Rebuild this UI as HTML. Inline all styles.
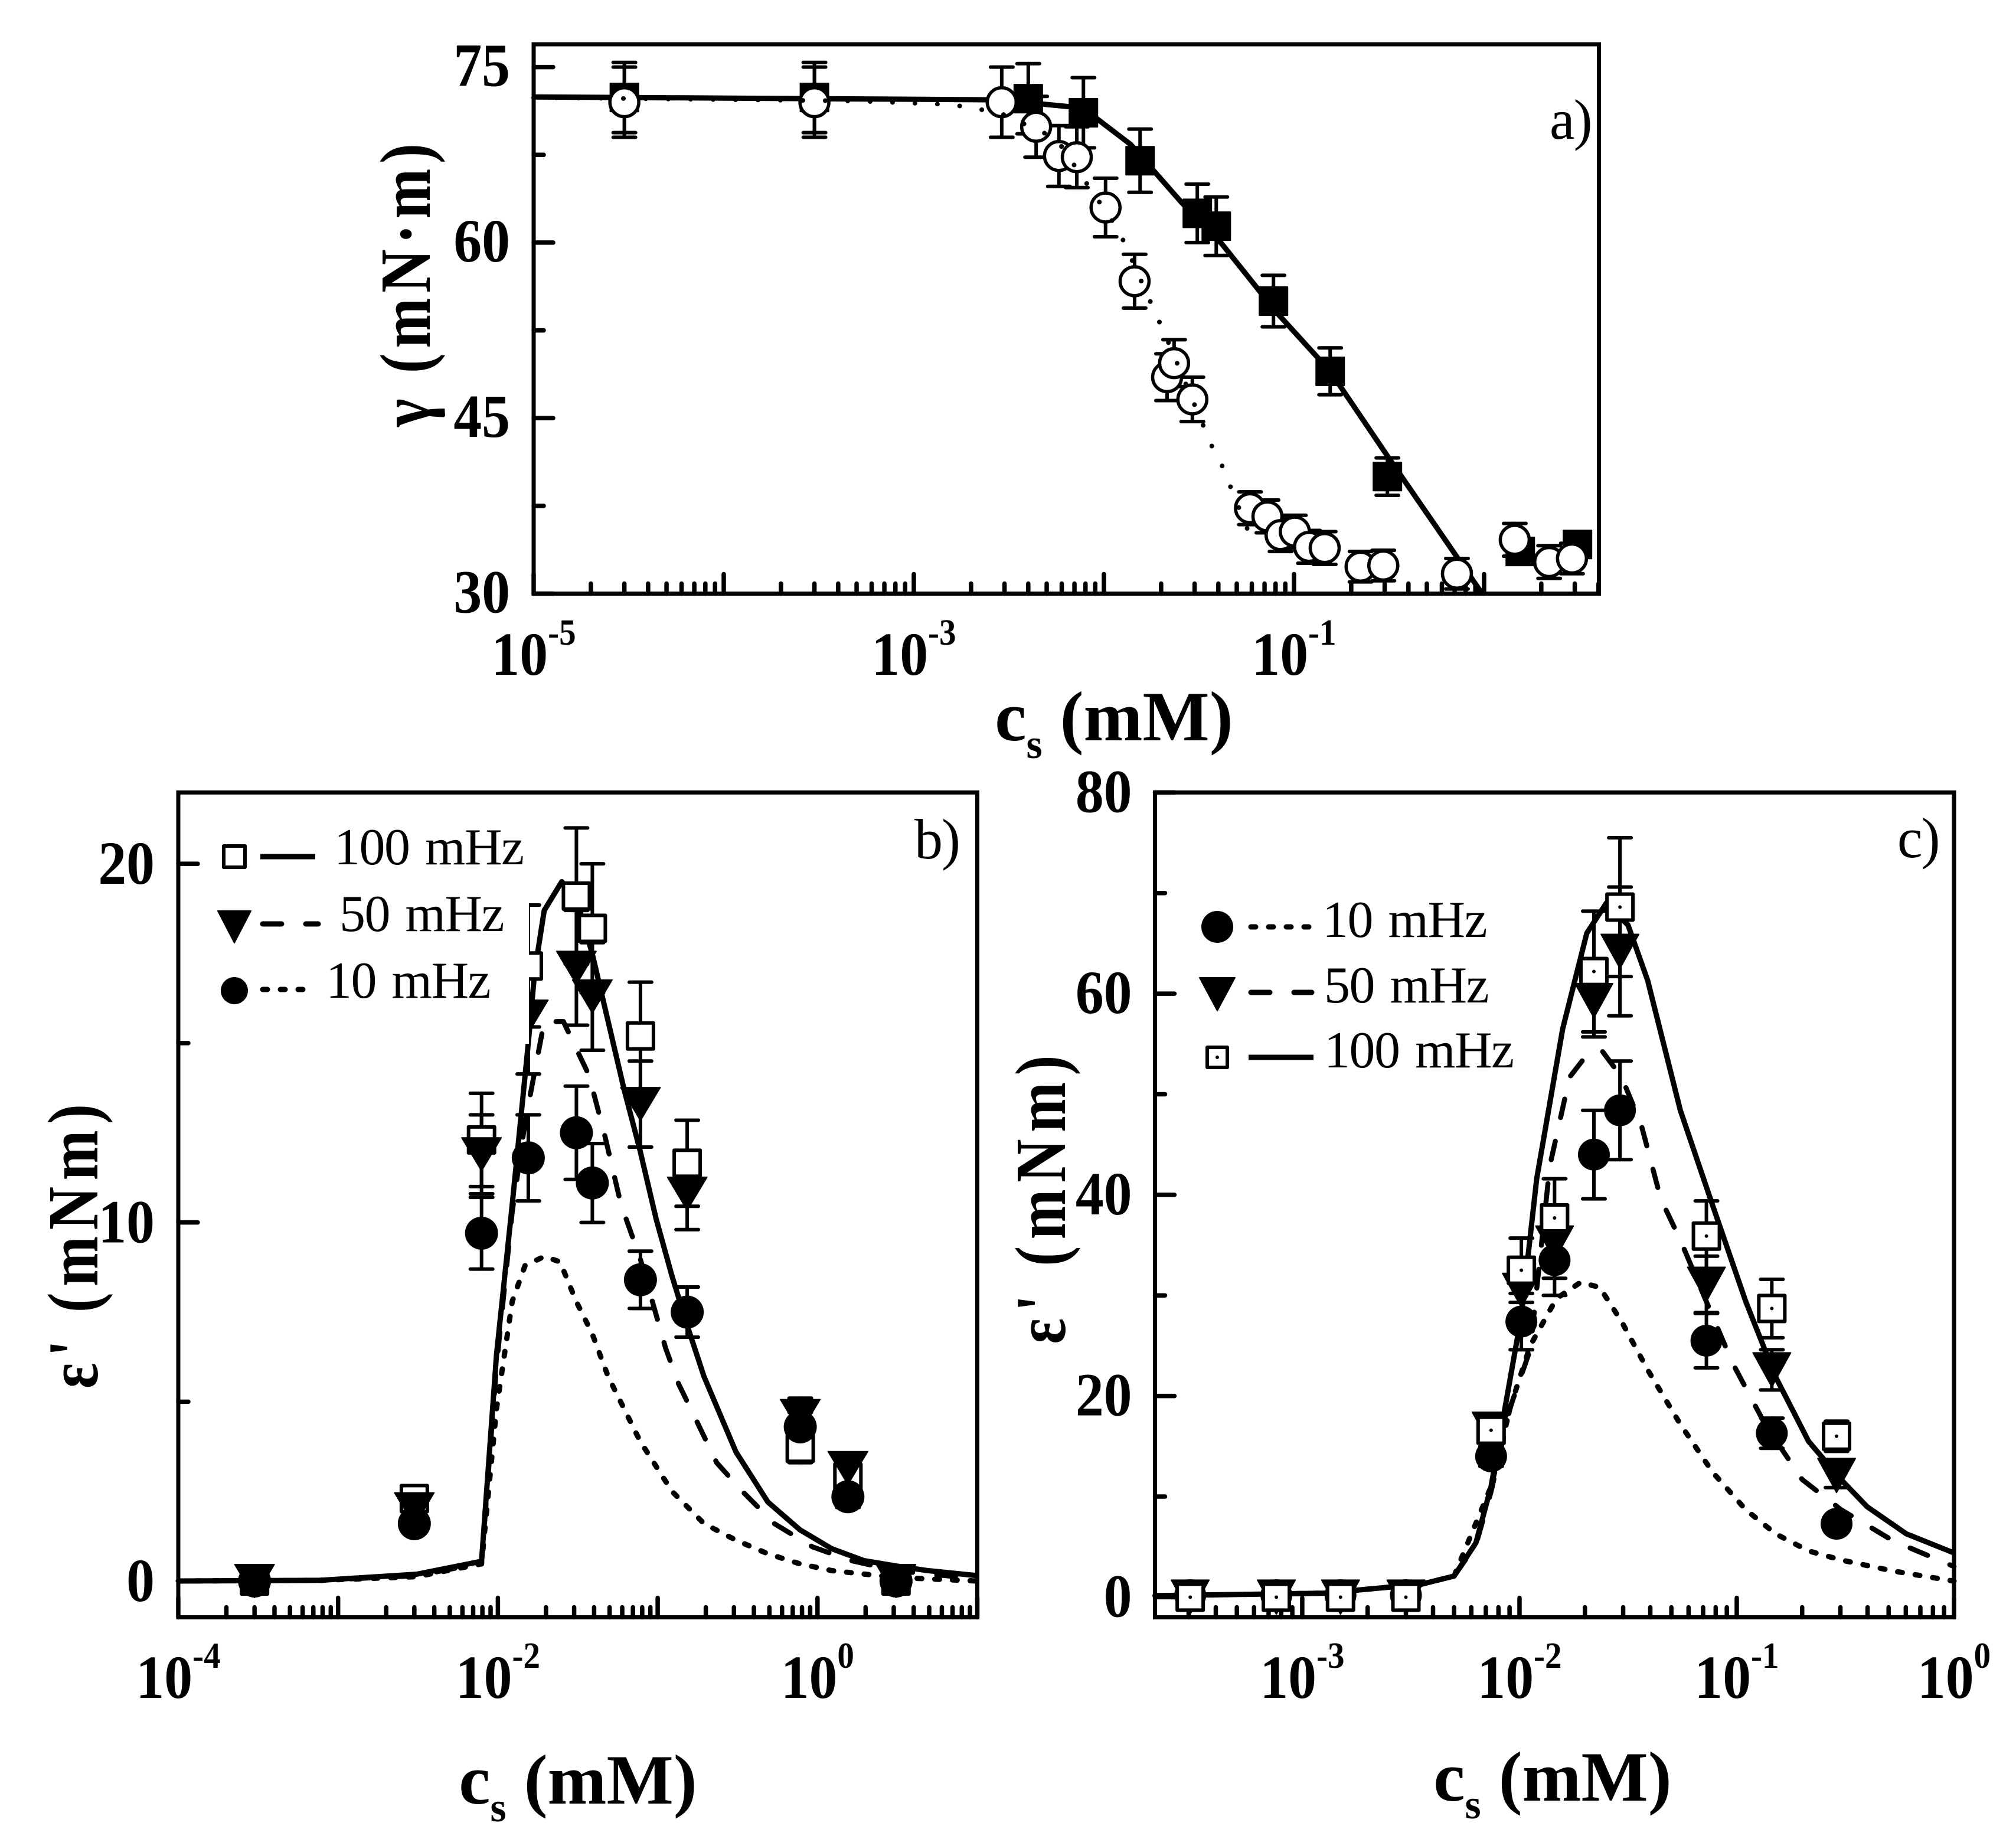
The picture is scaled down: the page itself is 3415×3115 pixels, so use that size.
<!DOCTYPE html>
<html>
<head>
<meta charset="utf-8">
<title>Surface tension and viscoelastic modulus charts</title>
<style>
html,body{margin:0;padding:0;background:#fff;}
svg{display:block;}
text{font-family:"Liberation Serif",serif;fill:#000;}
</style>
</head>
<body>
<svg id="chart" xmlns="http://www.w3.org/2000/svg" width="3415" height="3115" viewBox="0 0 3415 3115"></svg>
<script>
/* Panel a data */
const aSquareX=[3e-5,3e-4,4e-3,7.8e-3,0.0155,0.031,0.039,0.078,0.155,0.31,1.55,3.1];
const aSquareY=[72.4,72.4,72.3,71.1,67,62.5,61.4,55,49,40,33.6,34.2];
const aSquareErr=[3,3,3,3,2.7,2.5,2.5,2.2,2,1.6,0.7,0.7];
const aCircleX=[3e-5,3e-4,2.9e-3,4.4e-3,5.8e-3,7.2e-3,0.0102,0.0145,0.0215,0.0234,0.0292,0.0587,0.0725,0.085,0.101,0.12,0.145,0.224,0.295,0.72,1.45,2.2,2.9];
const aCircleY=[72,72,72,69.9,67.4,67.3,63,56.7,48.5,49.7,46.6,37.3,36.6,35,35.3,34,33.9,32.3,32.4,31.7,34.6,32.7,33];
const aCircleErr=[3,3,3,2.6,2.6,2.6,2.5,2.3,2,2,1.9,1.4,1.4,1.4,1.4,1.4,1.4,1.3,1.3,1.3,1.4,1.4,1.3];
const aSolidX=[1e-5,2.82e-3,7.76e-3,0.0138,0.0257,0.0417,0.0813,0.155,0.309,0.977];
const aSolidY=[72.45,72.2,71.5,68.4,63.4,59.9,54,49,41.8,30];
const aDotX=[1e-5,5.1e-4,1.58e-3,2.82e-3,5.6e-3,0.012,0.0214,0.0372,0.0417,0.0589];
const aDotY=[72.4,72.1,71.8,71.1,68.9,61,51.8,42.5,41,34.9];
const aYTicks=[30,45,60,75];
const aYMinor=[37.5,52.5,67.5];
const aXTickExp=[-5,-3,-1];

/* Panel b data */
const bX=[3e-4,3e-3,7.9e-3,0.0155,0.031,0.039,0.078,0.153,0.78,1.55,3.1];
const bSquare=[0,2.3,12.3,17.15,19.1,18.2,15.2,11.65,3.7,2.9,0];
const bSquareErr=[0.2,0.2,1.3,1.7,1.9,1.8,1.5,1.2,0.4,0.3,0.2];
const bTri=[0,2,11.9,15.74,17.1,16.3,13.3,10.8,4.6,3.15,0];
const bTriErr=[0.2,0.2,1.1,1.6,1.6,1.5,1.2,1,0.5,0.4,0.2];
const bCircle=[0,1.6,9.7,11.8,12.5,11.1,8.4,7.5,4.3,2.35,0];
const bCircleErr=[0.2,0.2,1,1.2,1.3,1.1,0.8,0.7,0.4,0.3,0.2];
const bSolidX=[1e-4,7.8e-4,3.1e-3,7.9e-3,9.8e-3,0.0123,0.0155,0.017,0.0195,0.0251,0.0309,0.0389,0.049,0.0617,0.0776,0.0977,0.123,0.155,0.195,0.309,0.49,0.776,1.23,1.95,3.09,4.9,10];
const bSolidY=[0,0.02,0.19,0.55,6.3,10.5,15,17,18.7,19.5,19.05,17.5,15.6,13.7,12,10.1,8.5,7.05,5.7,3.6,2.2,1.43,0.9,0.57,0.42,0.29,0.15];
const bDashX=[1e-4,7.8e-4,3.1e-3,7.9e-3,9.8e-3,0.0123,0.0148,0.0195,0.0257,0.0372,0.0468,0.0589,0.0776,0.112,0.135,0.178,0.234,0.339,0.537,0.933,1.62,3.09,10];
const bDashY=[0,0.02,0.15,0.5,6,10.3,12.8,15.6,15.6,14.1,12.4,10.5,9,6.5,5.5,4.4,3.3,2.5,1.6,0.95,0.57,0.29,0.06];
const bDotX=[1e-4,7.8e-4,3.1e-3,7.9e-3,9.8e-3,0.0123,0.0148,0.0195,0.0245,0.0309,0.0389,0.049,0.0617,0.0776,0.123,0.195,0.309,0.49,0.776,1.23,3.09,10];
const bDotY=[0,0.02,0.12,0.48,4.8,7.8,8.8,9.05,8.9,7.8,6.9,5.7,4.8,3.9,2.5,1.6,1.14,0.76,0.48,0.29,0.1,0];
const bYTicks=[0,10,20];
const bYMinor=[5,15];
const bXTickExp=[-4,-2,0];

/* Panel c data */
const cX=[3.05e-4,7.6e-4,1.5e-3,3e-3,7.4e-3,0.0102,0.0145,0.022,0.029,0.0725,0.145,0.288];
const cSquare=[0,0,0,0,16.6,32.5,37.7,62.2,68.6,35.9,28.7,16];
const cSquareErr=[0.3,0.3,0.3,0.3,1.3,3.2,3.9,6,6.9,3.5,2.9,1.5];
const cTri=[0,0,0,0,16.7,30.5,35.2,59.3,64.2,31.1,22.6,12.1];
const cTriErr=[0.3,0.3,0.3,0.3,1.2,3,3.5,3.6,6.4,2.8,2,1.2];
const cCircle=[0.2,0.2,0.2,0.2,14,27.4,33.5,44,48.4,25.5,16.3,7.3];
const cCircleErr=[0.2,0.2,0.2,0.2,1,2.8,3.5,4.4,4.9,2.7,1.5,0.7];
const cSolidX=[2.1e-4,1.26e-3,3.55e-3,5e-3,6.3e-3,7.4e-3,0.0102,0.012,0.0158,0.0204,0.0251,0.0316,0.0389,0.055,0.0776,0.11,0.151,0.214,0.302,0.398,0.603,1];
const cSolidY=[0.15,0.4,1.3,2.1,5.4,11,28,41.6,56.5,66,69,66.8,61.3,48.4,38.9,29.4,21.9,15.5,11.7,9,6.3,4.4];
const cDashX=[2.1e-4,1.26e-3,3.55e-3,5e-3,6.3e-3,7.4e-3,9.1e-3,0.0112,0.0138,0.017,0.0204,0.024,0.0295,0.0363,0.0447,0.055,0.0724,0.0955,0.135,0.2,0.302,0.525,1];
const cDashY=[0.15,0.4,1.3,2.1,5.2,10.5,19,24.6,42.9,51.7,53.9,54.3,51.7,47,39.6,35.5,29.4,23.3,17.2,11.7,8.7,5.6,3.05];
const cDotX=[2.1e-4,1.26e-3,3.55e-3,5e-3,7.4e-3,9.1e-3,0.0112,0.0148,0.0191,0.0234,0.0295,0.0389,0.055,0.0776,0.11,0.151,0.214,0.302,0.525,1];
const cDotY=[0.15,0.4,1.3,2.1,11,19,25,29.7,31.3,30.8,27.4,22.6,17.2,12.4,8.7,6.3,4.6,3.7,2.6,1.6];
const cYTicks=[0,20,40,60,80];
const cYMinor=[10,30,50,70];
const cXTickExp=[-3,-2,-1,0];

const svg=document.getElementById('chart');
const NS='http://www.w3.org/2000/svg';
function mk(tag,attrs,parent){
  const e=document.createElementNS(NS,tag);
  for(const k in attrs){e.setAttribute(k,attrs[k]);}
  (parent||svg).appendChild(e);
  return e;
}
function scales(box,xlim,ylim){
  const lx0=Math.log10(xlim[0]),lx1=Math.log10(xlim[1]);
  return {
    x:v=>box.l+(Math.log10(v)-lx0)/(lx1-lx0)*(box.r-box.l),
    y:v=>box.b-(v-ylim[0])/(ylim[1]-ylim[0])*(box.b-box.t)
  };
}
function drawFrame(name,box){
  const el=mk('rect',{x:box.l,y:box.t,width:box.r-box.l,height:box.b-box.t,fill:'none',stroke:'#000','stroke-width':7});
  
  
}
function drawAxes(name,box,s,xExp,yTicks,yMinor,xlim,o){
  const g=mk('g',{stroke:'#000','stroke-width':7.5,'stroke-linecap':'round'});
  
  
  const lo=Math.floor(Math.log10(xlim[0])),hi=Math.ceil(Math.log10(xlim[1]));
  for(let e=lo;e<=hi;e++){
    for(let m=1;m<10;m++){
      const v=m*Math.pow(10,e);
      if(v<xlim[0]*0.999||v>xlim[1]*1.001)continue;
      const px=s.x(v);
      mk('line',{x1:px,x2:px,y1:box.b,y2:box.b-(m===1?33:17)},g);
    }
  }
  yTicks.forEach(v=>{mk('line',{x1:box.l,x2:box.l+33,y1:s.y(v),y2:s.y(v)},g);});
  yMinor.forEach(v=>{mk('line',{x1:box.l,x2:box.l+17,y1:s.y(v),y2:s.y(v)},g);});
  yTicks.forEach(v=>{
    const t=mk('text',{x:0,y:0,'text-anchor':'end','font-size':104,'font-weight':'bold',transform:'translate('+(box.l-o.yPad)+' '+(s.y(v)+o.yBase)+') scale(0.92 1)'});
    t.textContent=String(v);
    
    
  });
  xExp.forEach(e=>{
    const t=mk('text',{x:0,y:0,'text-anchor':'middle','font-size':104,'font-weight':'bold',transform:'translate('+s.x(Math.pow(10,e))+' '+o.xBase+') scale(0.92 1)'});
    
    
    const a=mk('tspan',{},t);a.textContent='10';
    const b=mk('tspan',{dy:-51,'font-size':62},t);b.textContent=String(e);
  });
}
function drawErrors(name,s,xs,ys,errs,cap){
  const g=mk('g',{stroke:'#000','stroke-width':6,fill:'none','stroke-linecap':'round'});
  
  
  xs.forEach((x,i)=>{
    const px=s.x(x),t=s.y(ys[i]+errs[i]),b=s.y(ys[i]-errs[i]);
    mk('line',{x1:px,x2:px,y1:t,y2:b},g);
    mk('line',{x1:px-cap,x2:px+cap,y1:t,y2:t},g);
    mk('line',{x1:px-cap,x2:px+cap,y1:b,y2:b},g);
  });
}
function sqShape(g,px,py,size,fill,sw,dot){
  mk('rect',{x:px-size/2,y:py-size/2,width:size,height:size,fill:fill,stroke:'#000','stroke-width':sw,'stroke-linejoin':'round'},g);
  if(dot)mk('circle',{cx:px,cy:py,r:3,fill:'#000'},g);
}
function triShape(g,px,py,w,h){
  mk('polygon',{points:(px-w/2)+','+(py-h/2)+' '+(px+w/2)+','+(py-h/2)+' '+px+','+(py+h/2),fill:'#000',stroke:'#000','stroke-width':2,'stroke-linejoin':'round'},g);
}
function circShape(g,px,py,r,fill,sw){
  mk('circle',{cx:px,cy:py,r:r,fill:fill,stroke:fill==='#000'?'none':'#000','stroke-width':sw},g);
}
function drawMarkers(name,s,xs,ys,kind,o){
  const g=mk('g',{});
  
  
  xs.forEach((x,i)=>{
    const px=s.x(x),py=s.y(ys[i]);
    if(kind==='sq')sqShape(g,px,py,o.size,o.fill,o.sw,o.dot);
    if(kind==='tri')triShape(g,px,py,o.w,o.h);
    if(kind==='circ')circShape(g,px,py,o.r,o.fill,o.sw);
  });
}
function drawCurve(name,s,xs,ys,dash,width,cap){
  const pts=xs.map((x,i)=>s.x(x).toFixed(1)+','+s.y(ys[i]).toFixed(1)).join(' ');
  const el=mk('polyline',{points:pts,fill:'none',stroke:'#000','stroke-width':width,'stroke-dasharray':dash,'stroke-linecap':cap,'stroke-linejoin':'round'});
  
  
}
function axisTitleX(name,cx,base,size){
  const t=mk('text',{x:cx,y:base,'text-anchor':'middle','font-size':size,'font-weight':'bold'});
  
  
  const a=mk('tspan',{},t);a.textContent='c';
  const b=mk('tspan',{dy:30,'font-size':size*0.58},t);b.textContent='s';
  const c=mk('tspan',{dy:-30},t);c.textContent=' (mM)';
}
function axisTitleY(name,bx,cy,size,len,txt){
  const t=mk('text',{x:0,y:0,'text-anchor':'middle','font-size':size,'font-weight':'bold',textLength:len,lengthAdjust:'spacing',transform:'translate('+bx+' '+cy+') rotate(-90) scale(1 1.2)'});
  t.textContent=txt;
  
  
}
function panelLetter(name,x,y,txt){
  const t=mk('text',{x:x,y:y,'font-size':96,'letter-spacing':-2});
  t.textContent=txt;
  
  
}
function legendLine(name,x1,x2,y,dash,cap){
  const el=mk('line',{x1:x1,x2:x2,y1:y,y2:y,stroke:'#000','stroke-width':9,'stroke-dasharray':dash,'stroke-linecap':cap});
  
  
}
function legendText(name,x,y,txt){
  const t=mk('text',{x:x,y:y,'font-size':88,'letter-spacing':-1.5,'word-spacing':6});
  t.textContent=txt;
  
  
}
const DOT='0 38',DASH='32 41',SHORT='8 22';

/* Panel a */
const aBox={l:904,r:2708.5,t:75,b:1005.5};
const aXlim=[1e-5,4.02];
const aS=scales(aBox,aXlim,[30,76.95]);
drawFrame('panel-a',aBox);
drawAxes('panel-a',aBox,aS,aXTickExp,aYTicks,aYMinor,aXlim,{yPad:40,yBase:32,xBase:1143});
drawCurve('panel-a-solid-fit',aS,aSolidX,aSolidY,'none',9,'butt');
drawErrors('panel-a-squares',aS,aSquareX,aSquareY,aSquareErr,19);
drawErrors('panel-a-circles',aS,aCircleX,aCircleY,aCircleErr,19);
drawMarkers('panel-a-filled-squares',aS,aSquareX,aSquareY,'sq',{size:48,fill:'#000',sw:2});
drawMarkers('panel-a-open-circles',aS,aCircleX,aCircleY,'circ',{r:24.5,fill:'#fff',sw:5.5});
drawCurve('panel-a-dotted-fit',aS,aDotX,aDotY,DOT,8,'round');
axisTitleX('panel-a',1887,1254,120);
axisTitleY('panel-a',728,483,102,480,'γ (mN·m)');
panelLetter('panel-a',2625,235,'a)');

/* Panel b */
const bBox={l:302,r:1655.5,t:1342.3,b:2739.5};
const bXlim=[1e-4,10];
const bS=scales(bBox,bXlim,[-1.012,21.99]);
drawFrame('panel-b',bBox);
drawAxes('panel-b',bBox,bS,bXTickExp,bYTicks,bYMinor,bXlim,{yPad:40,yBase:34,xBase:2876});
drawCurve('panel-b-100mhz-fit',bS,bSolidX,bSolidY,'none',9,'butt');
drawCurve('panel-b-50mhz-fit',bS,bDashX,bDashY,DASH,8.5,'round');
drawCurve('panel-b-10mhz-fit',bS,bDotX,bDotY,SHORT,9,'round');
drawErrors('panel-b-100mhz',bS,bX,bSquare,bSquareErr,19);
drawErrors('panel-b-50mhz',bS,bX,bTri,bTriErr,19);
drawErrors('panel-b-10mhz',bS,bX,bCircle,bCircleErr,19);
drawMarkers('panel-b-100mhz-squares',bS,bX,bSquare,'sq',{size:44,fill:'#fff',sw:6});
drawMarkers('panel-b-50mhz-triangles',bS,bX,bTri,'tri',{w:67,h:56});
drawMarkers('panel-b-10mhz-circles',bS,bX,bCircle,'circ',{r:28,fill:'#000',sw:0});
axisTitleX('panel-b',979,3055,120);
axisTitleY('panel-b',165,2111,102,482,"ε' (mNm)");
panelLetter('panel-b',1549,1454,'b)');

const bMask=mk('rect',{x:600,y:1528,width:296,height:240,fill:'#fff'});



const lgBs=mk('g',{});


sqShape(lgBs,397,1451,36,'#fff',6,false);
triShape(lgBs,397,1570,56,54);
circShape(lgBs,397,1678,23,'#000',0);
legendLine('panel-b-100mhz',441,534,1451,'none','butt');
legendLine('panel-b-50mhz',445,539,1565,DASH,'round');
legendLine('panel-b-10mhz',445,521,1676,SHORT,'round');
legendText('panel-b-100mhz',566,1464,'100 mHz');
legendText('panel-b-50mhz',575,1577,'50 mHz');
legendText('panel-b-10mhz',552,1690,'10 mHz');

/* Panel c */
const cBox={l:1956.5,r:3310,t:1342.3,b:2739.5};
const cXlim=[2.1e-4,1];
const cS=scales(cBox,cXlim,[-2,80]);
drawFrame('panel-c',cBox);
drawAxes('panel-c',cBox,cS,cXTickExp,cYTicks,cYMinor,cXlim,{yPad:39,yBase:33,xBase:2876});
drawCurve('panel-c-100mhz-fit',cS,cSolidX,cSolidY,'none',9,'butt');
drawCurve('panel-c-50mhz-fit',cS,cDashX,cDashY,DASH,8.5,'round');
drawCurve('panel-c-10mhz-fit',cS,cDotX,cDotY,SHORT,9,'round');
drawErrors('panel-c-100mhz',cS,cX,cSquare,cSquareErr,19);
drawErrors('panel-c-50mhz',cS,cX,cTri,cTriErr,19);
drawErrors('panel-c-10mhz',cS,cX,cCircle,cCircleErr,19);
drawMarkers('panel-c-10mhz-circles',cS,cX,cCircle,'circ',{r:27,fill:'#000',sw:0});
drawMarkers('panel-c-50mhz-triangles',cS,cX,cTri,'tri',{w:64,h:58});
drawMarkers('panel-c-100mhz-squares',cS,cX,cSquare,'sq',{size:44,fill:'#fff',sw:6,dot:true});
axisTitleX('panel-c',2630,3050,120);
axisTitleY('panel-c',1804,2032,102,489,"ε' (mNm)");
panelLetter('panel-c',3214,1452,'c)');

const lgCs=mk('g',{});


circShape(lgCs,2062,1570,27,'#000',0);
triShape(lgCs,2062,1684,60,56);
sqShape(lgCs,2062,1791,34,'#fff',6,true);
legendLine('panel-c-10mhz',2119,2225,1570,SHORT,'round');
legendLine('panel-c-50mhz',2119,2222,1681,DASH,'round');
legendLine('panel-c-100mhz',2115,2225,1791,'none','butt');
legendText('panel-c-10mhz',2240,1587,'10 mHz');
legendText('panel-c-50mhz',2243,1698,'50 mHz');
legendText('panel-c-100mhz',2243,1808,'100 mHz');
</script>
</body>
</html>
